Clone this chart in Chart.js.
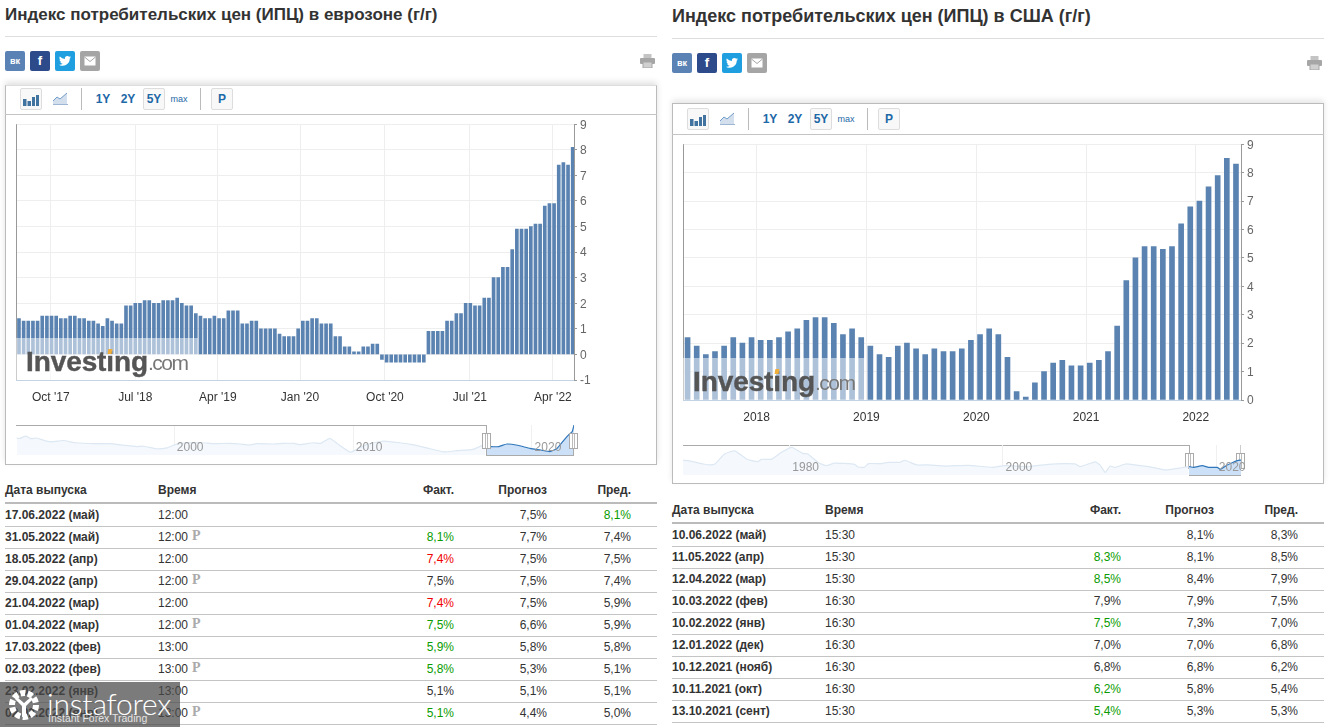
<!DOCTYPE html>
<html lang="ru">
<head>
<meta charset="utf-8">
<title>ИПЦ</title>
<script src="https://cdn.jsdelivr.net/npm/chart.js@4"></script>
<style>
html,body{margin:0;padding:0;background:#fff;overflow:hidden}
body{width:1335px;height:727px;position:relative;font-family:Arial,"Liberation Sans",sans-serif;color:#333}
.a{position:absolute;white-space:nowrap}
canvas{position:absolute;display:block}
.title{font-weight:bold;line-height:22px;color:#333}
.soc{width:20px;height:20px;border-radius:2px;color:#fff;text-align:center;font-weight:bold;font-size:13px;line-height:20px}
.tb{height:22px;line-height:22px;font-size:12px;font-weight:bold;color:#1d68a7;text-align:center}
.btn{border:1px solid #ddd;border-radius:2px;background:#f8f8f8;box-sizing:border-box;width:22px}
.sep{background:#bbb;width:1px;height:22px}
.cell{font-size:12px;line-height:22px;height:22px}
.b{font-weight:bold}
.logoI{font-weight:bold;font-size:28px;line-height:30px;color:#555;letter-spacing:-.1px;-webkit-text-stroke:.4px #555}
.logoC{font-size:21px;line-height:30px;color:#777;letter-spacing:-1.5px}
.pmark{font-family:"Liberation Serif",serif;font-weight:bold;font-size:14px;line-height:22px;color:#aaa}
</style>
</head>
<body>
<script>
/* ---------- euro area chart ---------- */
const euroValues=[1.4,1.3,1.3,1.3,1.3,1.5,1.5,1.5,1.5,1.4,1.4,1.5,1.5,1.4,1.4,1.3,1.3,1.2,1.1,1.4,
1.3,1.2,1.2,1.9,1.9,2.0,2.0,2.1,2.1,2.0,2.0,2.1,2.1,2.1,2.2,2.0,1.9,1.9,1.6,1.5,
1.4,1.4,1.5,1.4,1.4,1.7,1.7,1.7,1.2,1.2,1.3,1.3,1.0,1.0,1.0,1.0,0.8,0.7,0.7,0.7,
1.0,1.3,1.3,1.4,1.4,1.2,1.2,1.2,0.7,0.7,0.3,0.3,0.1,0.1,0.3,0.3,0.4,0.4,-0.2,-0.3,
-0.3,-0.3,-0.3,-0.3,-0.3,-0.3,-0.3,-0.3,0.9,0.9,0.9,0.9,1.3,1.3,1.6,1.6,2.0,2.0,1.9,1.9,
2.2,2.2,3.0,3.0,3.4,3.4,4.1,4.9,4.9,4.9,5.0,5.1,5.1,5.8,5.9,5.9,7.4,7.5,7.4,8.1];
const euroTickLabels=["Oct '17","Jul '18","Apr '19","Jan '20","Oct '20","Jul '21","Apr '22"];
const euroTickAt=[6.85,25,42.75,60.4,78.65,96.9,114.75];
const euroTicksY=[-1,0,1,2,3,4,5,6,7,8,9];

/* ---------- US chart ---------- */
const usValues=[2.2,1.9,1.6,1.7,1.9,2.2,2.0,2.2,2.1,2.1,2.2,2.4,2.5,2.8,2.9,2.9,2.7,2.3,2.5,2.2,
1.9,1.6,1.5,1.9,2.0,1.8,1.6,1.8,1.7,1.7,1.8,2.1,2.3,2.5,2.3,1.5,0.3,0.1,0.6,1.0,
1.3,1.4,1.2,1.2,1.3,1.4,1.7,2.6,4.2,5.0,5.4,5.4,5.3,5.4,6.2,6.8,7.0,7.5,7.9,8.5,8.3];
const usTickLabels=["2018","2019","2020","2021","2022"];
const usTickAt=[7.55,19.57,31.6,43.6,55.6];

/* ---------- navigator series (read from the overview strips) ---------- */
const euroNavYears=[1991.2,1991.4,1991.7,1992,1992.3,1992.8,1993.2,1993.8,1994.5,1995.5,1996.4,1997.2,1997.9,1998.3,1999,1999.6,2000.1,2000.7,2001.6,2002.2,2003.1,2003.7,2004.2,2004.6,2005.6,2006.1,2006.7,2007,2007.8,2008.2,2008.7,2009.1,2009.85,2010.3,2010.8,2011.7,2012.6,2013.4,2014.1,2015.1,2015.8,2016.7,2017.4];
const euroNavVals=[3.9,3.9,4.6,3.8,4.0,3.1,2.8,3.2,2.5,2.2,2.2,1.7,1.3,1.4,0.6,0.9,2.0,2.5,2.5,2.2,2.3,2.1,1.8,2.2,2.1,2.3,2.3,1.9,2.5,2.3,3.9,2.3,-0.5,0.7,2.0,3.0,2.5,1.8,0.9,-0.4,0,0.4,2.1];
const euroSelYears=[2017.45,2017.7,2018.15,2018.6,2019.2,2019.9,2020.5,2021,2021.4,2021.8,2022.05,2022.25,2022.35];
const euroSelVals=[1.6,1.3,1.3,2.1,1.7,0.7,0.2,-0.3,0.7,3.4,5,6,8.1];
const euroNavTicks=[2000,2010,2020];

const usNavYears=[1970,1970.8,1971.9,1972.5,1973,1973.9,1974.85,1975.95,1977,1977.35,1978.3,1979.2,1980.2,1981.2,1981.7,1982.7,1983.45,1984.2,1986.1,1986.4,1987,1987.4,1988.6,1989.25,1990.35,1990.8,1991.9,1993,1994.6,1996.75,1999,2000.2,2002.4,2004.3,2005.8,2006.8,2007.25,2008.65,2009.1,2009.6,2010.05,2010.5,2011.5,2012.4,2014,2015.2,2016.8,2017.4];
const usNavVals=[7.9,7.3,5.9,5.4,5.9,11.3,12.9,8.6,7.1,8.4,8.4,12.0,14.8,11.6,11.3,6.6,5.0,6.4,5.7,4.3,4.1,6.1,6.1,6.8,6.8,7.9,5.4,5.4,4.8,5.2,4.1,5.0,4.5,5.7,6.1,5.9,4.5,7.0,5.4,1.4,4.8,4.1,5.9,5.4,4.1,2.7,3.9,4.5];
const usSelYears=[2017.45,2017.9,2018.7,2019.3,2020.1,2020.4,2021,2021.5,2022,2022.33];
const usSelVals=[4.5,4.1,5.0,4.1,4.1,3.0,5.2,6.6,7.7,8.0];
const usNavTicks=[1980,2000,2020];

/* ---------- tables ---------- */
const euroDates=["17.06.2022 (май)","31.05.2022 (май)","18.05.2022 (апр)","29.04.2022 (апр)","21.04.2022 (мар)","01.04.2022 (мар)","17.03.2022 (фев)","02.03.2022 (фев)","23.02.2022 (янв)","02.02.2022 (янв)"];
const euroTimes=["12:00","12:00","12:00","12:00","12:00","12:00","13:00","13:00","13:00","13:00"];
const euroPrelim=[0,1,0,1,0,1,0,1,0,1];
const euroActual=["","8,1%","7,4%","7,5%","7,4%","7,5%","5,9%","5,8%","5,1%","5,1%"];
const euroActualTone=["","g","r","","r","g","g","g","","g"];
const euroForecast=["7,5%","7,7%","7,5%","7,5%","7,5%","6,6%","5,8%","5,3%","5,1%","4,4%"];
const euroPrev=["8,1%","7,4%","7,5%","7,4%","5,9%","5,9%","5,8%","5,1%","5,1%","5,0%"];
const euroPrevTone=["g","","","","","","","","",""];

const usDates=["10.06.2022 (май)","11.05.2022 (апр)","12.04.2022 (мар)","10.03.2022 (фев)","10.02.2022 (янв)","12.01.2022 (дек)","10.12.2021 (нояб)","10.11.2021 (окт)","13.10.2021 (сент)"];
const usTimes=["15:30","15:30","15:30","16:30","16:30","16:30","16:30","16:30","15:30"];
const usPrelim=[0,0,0,0,0,0,0,0,0];
const usActual=["","8,3%","8,5%","7,9%","7,5%","7,0%","6,8%","6,2%","5,4%"];
const usActualTone=["","g","g","","g","","","g","g"];
const usForecast=["8,1%","8,1%","8,4%","7,9%","7,3%","7,0%","6,8%","5,8%","5,3%"];
const usPrev=["8,3%","8,5%","7,9%","7,5%","7,0%","6,8%","6,2%","5,4%","5,3%"];
const usPrevTone=["","","","","","","","",""];

const headers=["Дата выпуска","Время","Факт.","Прогноз","Пред."];
const titles=["Индекс потребительских цен (ИПЦ) в еврозоне (г/г)","Индекс потребительских цен (ИПЦ) в США (г/г)"];

/* ---------- helpers ---------- */
const BAR='#5b83b1',TONE={g:'#0a9c00',r:'#f00000','':'#333'};
function el(cls,css,html,tag){const d=document.createElement(tag||'div');d.className='a '+cls;
  d.style.cssText=css;if(html!==undefined)d.innerHTML=html;document.body.appendChild(d);return d;}
function box(x,y,w,h,css){return el('',`left:${x}px;top:${y}px;width:${w}px;height:${h}px;${css||''}`);}

const leftEdge={id:'leftEdge',afterDraw(c){const a=c.chartArea,g=c.ctx;g.save();g.strokeStyle='#999';g.lineWidth=1;
  g.beginPath();g.moveTo(a.left+.5,a.top);g.lineTo(a.left+.5,a.bottom);g.stroke();g.restore();}};

/* year labels sit inside the overview strip, just right of their gridlines */
const navLabels={id:'navLabels',afterDatasetsDraw(c){const s=c.scales.x,g=c.ctx;g.save();
  g.fillStyle='#999';g.font='12px Arial,"Liberation Sans"';g.textAlign='center';g.textBaseline='middle';
  s.ticks.forEach(t=>g.fillText(String(t.value),s.getPixelForValue(t.value)+16,23));g.restore();}};

function barChart(o){
  const cv=document.createElement('canvas');cv.width=o.w;cv.height=o.h;
  cv.style.left=o.x+'px';cv.style.top=o.y+'px';document.body.appendChild(cv);
  return new Chart(cv,{type:'bar',
    data:{datasets:[{data:o.values.map((v,i)=>({x:i,y:v})),backgroundColor:BAR,barThickness:o.bar,borderWidth:0}]},
    plugins:[leftEdge],
    options:{responsive:false,animation:false,devicePixelRatio:1,
      layout:{padding:{left:o.padL,top:0,right:0,bottom:0}},
      plugins:{legend:{display:false},tooltip:{enabled:false}},
      scales:{
        x:{type:'linear',offset:false,min:o.xmin,max:o.xmax,
          afterBuildTicks(s){s.ticks=o.tickAt.map(v=>({value:v}));},
          afterFit(s){s.height=o.axisH;},
          border:{color:'#c3d3e6',width:1},
          grid:{color:'#eeeeee',offset:false,drawTicks:false},
          ticks:{autoSkip:false,maxRotation:0,padding:o.tickPad,color:'#333',font:{family:'Arial,"Liberation Sans"',size:12},
            callback:(v,i)=>o.tickLabels[i]}},
        y:{type:'linear',position:'right',min:o.ymin,max:9,
          afterBuildTicks(s){s.ticks=o.yTicks.map(v=>({value:v}));},
          afterFit(s){s.width=o.axisW;},
          border:{color:'#999',width:1},
          grid:{color:'#eeeeee',tickColor:'#999',tickLength:3},
          ticks:{padding:3,labelOffset:1,color:'#666',font:{family:'Arial,"Liberation Sans"',size:12},align:'center',crossAlign:'near'}}
      }}});
}

function navChart(o){
  const cv=document.createElement('canvas');cv.width=o.w+12;cv.height=o.h;
  cv.style.left=o.x+'px';cv.style.top=o.y+'px';document.body.appendChild(cv);
  const pts=(X,Y)=>X.map((x,i)=>({x,y:Y[i]}));
  return new Chart(cv,{type:'line',
    data:{datasets:[
      {data:pts(o.navX,o.navY),borderColor:'#dde8f3',borderWidth:1.2,backgroundColor:'#f5f9fd',fill:'start',pointRadius:0,tension:.15},
      {data:pts(o.selX,o.selY),borderColor:'#2f76ba',borderWidth:1.2,backgroundColor:'#cce1f8',fill:'start',pointRadius:0,tension:.15}
    ]},
    plugins:[navLabels],
    options:{responsive:false,animation:false,devicePixelRatio:1,
      layout:{padding:{right:12}},
      plugins:{legend:{display:false},tooltip:{enabled:false}},
      scales:{
        x:{type:'linear',min:o.xmin,max:o.xmax,
          afterBuildTicks(s){s.ticks=o.ticks.map(v=>({value:v}));},
          afterFit(s){s.height=0;},
          border:{display:false},
          grid:{color:'#f0f0f0',drawTicks:false},
          ticks:{display:false}},
        y:{display:false,min:o.ymin,max:o.ymax}
      }}});
}

function icons(x,y,px,py){
  el('soc',`left:${x}px;top:${y}px;background:#5a82b5;font-size:9px`,'вк');
  el('soc',`left:${x+25}px;top:${y}px;background:#2d4a8a`,'f');
  el('soc',`left:${x+50}px;top:${y}px;background:#1f9fe0`,'<svg width="12" height="10" viewBox="0 0 24 20" style="margin-top:5px;display:block;margin-left:4px"><path fill="#fff" d="M24 2.4c-.9.4-1.8.7-2.8.8 1-.6 1.8-1.6 2.2-2.7-1 .6-2 1-3.1 1.2A4.9 4.9 0 0 0 11.900 6.100 14 14 0 0 1 1.700.9a4.900 4.900 0 0 0 1.500 6.600c-.8 0-1.600-.2-2.200-.6 0 2.400 1.700 4.400 3.900 4.900-.7.200-1.500.2-2.200.1.600 2 2.400 3.400 4.600 3.400A9.900 9.900 0 0 1 0 17.300 14 14 0 0 0 21.500 4.900c1-.7 1.800-1.500 2.500-2.500z"/></svg>');
  el('soc',`left:${x+75}px;top:${y}px;background:#a5a5a5`,'<svg width="12" height="10" viewBox="0 0 12 10" style="margin-top:5px;display:block;margin-left:4px"><rect x=".5" y=".5" width="11" height="9" fill="#fff"/><path d="M.5 1 6 5.500 11.500 1" fill="none" stroke="#a5a5a5"/></svg>');
  el('',`left:${px}px;top:${py}px`,'<svg width="15" height="14" viewBox="0 0 15 14" style="display:block"><rect x="3.500" y="0" width="8" height="4" fill="#c4c4c4"/><rect x="0" y="4" width="15" height="6" rx="1" fill="#a6a6a6"/><rect x="3" y="8" width="9" height="6" fill="#d0d0d0" stroke="#a6a6a6"/></svg>');
}

function toolbar(dx,y){
  const t=y;
  el('btn',`left:${20+dx}px;top:${t}px;height:22px`,'<svg width="16" height="12" viewBox="0 0 16 12" style="display:block;margin:5px 2px"><path fill="#40739f" d="M0 5h3.500v7H0zM4.500 7H8v5H4.500zM9 3h3v9H9zM13 1h3v11h-3z"/></svg>');
  el('',`left:${52+dx}px;top:${t+4}px`,'<svg width="17" height="13" viewBox="0 0 17 13" style="display:block"><path d="M1 9 5 5 8 7 15 1V12H1z" fill="#d4dfee"/><path d="M1 9 5 5 8 7 15 1" fill="none" stroke="#6f9cc9"/><path d="M1 12.500h15" stroke="#9cb6d3"/></svg>');
  el('sep',`left:${81+dx}px;top:${t}px`);
  el('tb',`left:${93+dx}px;top:${t}px;width:20px`,'1Y');
  el('tb',`left:${118+dx}px;top:${t}px;width:20px`,'2Y');
  el('btn tb',`left:${143+dx}px;top:${t}px;line-height:20px`,'5Y');
  el('tb',`left:${168+dx}px;top:${t}px;width:22px;font-size:9px;font-weight:normal`,'max');
  el('sep',`left:${200+dx}px;top:${t}px`);
  el('btn tb',`left:${211+dx}px;top:${t}px;line-height:20px`,'P');
}

function logo(x,base){
  const top=base-23;
  el('logoI',`left:${x}px;top:${top}px`,'Investing');
  el('logoC',`left:${x+122}px;top:${top+1}px`,'.com');
  box(x+82,base-21,4,5,'background:#f0ae3c;transform:skewX(-10deg)');
}

function table(o){
  const X=o.x;
  const cols=[{l:X},{l:X+153},{r:X+449},{r:X+542},{r:X+626}];
  headers.forEach((h,i)=>{const c=cols[i];
    el('cell',`top:${o.head-11}px;font-weight:bold;${c.l!==undefined?`left:${c.l}px`:`right:${1335-c.r}px`}`,h);});
  box(X,o.head+12,o.w,2,'background:#bbb');
  o.dates.forEach((d,i)=>{
    const y=o.first-11+i*22;
    el('cell b',`left:${cols[0].l}px;top:${y}px`,d);
    el('cell',`left:${cols[1].l}px;top:${y}px`,o.times[i]);
    if(o.prelim[i])el('pmark',`left:${X+187}px;top:${y-1}px`,'P');
    el('cell',`right:${1335-cols[2].r}px;top:${y}px;color:${TONE[o.actualTone[i]]}`,o.actual[i]);
    el('cell',`right:${1335-cols[3].r}px;top:${y}px`,o.forecast[i]);
    el('cell',`right:${1335-cols[4].r}px;top:${y}px;color:${TONE[o.prevTone[i]]}`,o.prev[i]);
    box(X,y+22,o.w,1,'background:#c4c4c4');
  });
}

function navFrame(x0,xs,xe,top,bot){
  const c='#aaa';
  box(x0,top,xs-x0,1,`background:${c}`);
  box(xs,top,1,bot-top,`background:${c}`);
  box(xs,bot,xe-xs+1,1,`background:${c}`);
  box(xe,top+20,1,bot-top-20,`background:${c}`);
  [xs,xe].forEach(h=>{
    el('',`left:${h-4}px;top:${top+8}px;width:7px;height:14px;background:#fff;border:1px solid #aaa;
      background-image:linear-gradient(90deg,transparent 2px,#bbb 2px,#bbb 3px,transparent 3px,transparent 4px,#bbb 4px,#bbb 5px,transparent 5px)`);
  });
}

/* ---------- page ---------- */
el('title','left:5px;top:4px;font-size:17px',titles[0]);
el('title','left:672px;top:5px;font-size:18px',titles[1]);
box(5,36,652,1,'background:#ddd');
box(672,38,652,1,'background:#ddd');
icons(5,51,640,54);
icons(672,53,1307,56);

box(5,85,652,380,'border:1px solid #bbb;border-top-color:#ddd;box-sizing:border-box;box-shadow:0 -3px 6px rgba(0,0,0,.12)');
box(672,103,652,381,'border:1px solid #bbb;box-sizing:border-box;box-shadow:0 -3px 6px rgba(0,0,0,.10)');
box(5,114,652,1,'background:#c4c4c4');
box(672,134,652,1,'background:#c4c4c4');
toolbar(0,88);
toolbar(667,108);

barChart({x:6,y:114,w:600,h:302,values:euroValues,bar:3,padL:10,axisW:32,axisH:36,tickPad:10,
  xmin:-0.64,xmax:119.28,ymin:-1,yTicks:euroTicksY,tickAt:euroTickAt,tickLabels:euroTickLabels});
barChart({x:673,y:134,w:600,h:302,values:usValues,bar:5,padL:10,axisW:32,axisH:36,tickPad:10,
  xmin:-0.5,xmax:60.55,ymin:0,yTicks:euroTicksY.slice(1),tickAt:usTickAt,tickLabels:usTickLabels});

navChart({x:16,y:425,w:558,h:30,navX:euroNavYears,navY:euroNavVals,selX:euroSelYears,selY:euroSelVals,
  xmin:1991.16,xmax:2022.35,ymin:-1.37,ymax:8.1,ticks:euroNavTicks});
navFrame(16,486,573,425,455);
/* the US strip's "2020" label runs over the right handle, so the frame goes underneath */
navFrame(683,1189,1240,445,475);
box(1240,445,1,8,'background:#ccc');
navChart({x:683,y:445,w:558,h:30,navX:usNavYears,navY:usNavVals,selX:usSelYears,selY:usSelVals,
  xmin:1970,xmax:2022.33,ymin:0,ymax:16.07,ticks:usNavTicks});

/* watermark veil + logo over the plots */
box(16,338,182,42,'background:rgba(255,255,255,.5)');
box(683,358,182,42,'background:rgba(255,255,255,.5)');
logo(26,370);
logo(693,390);

table({x:5,w:652,head:490,first:515,dates:euroDates,times:euroTimes,prelim:euroPrelim,actual:euroActual,actualTone:euroActualTone,forecast:euroForecast,prev:euroPrev,prevTone:euroPrevTone});
table({x:672,w:652,head:510,first:535,dates:usDates,times:usTimes,prelim:usPrelim,actual:usActual,actualTone:usActualTone,forecast:usForecast,prev:usPrev,prevTone:usPrevTone});

/* InstaForex stamp */
box(0,682,180,45,'background:rgba(72,72,72,.72)');
el('',`left:6px;top:688px`,'<svg width="36" height="34" viewBox="0 0 36 34" style="display:block"><g fill="none" stroke="#fff" stroke-width="3"><circle cx="18" cy="17" r="12" stroke-dasharray="5 2.500" stroke-width="6"/></g><path d="M11 9l7 6 7-6 2 2-7 7v11h-4V18l-7-7z" fill="#fff"/></svg>');
el('',`left:47px;top:686px;font-family:Lato,"Open Sans",sans-serif;font-weight:300;font-size:30px;line-height:34px;color:#fff;letter-spacing:-.2px`,'instaforex');
el('',`left:48px;top:712px;font-family:Arial,"Liberation Sans",sans-serif;font-size:10.500px;line-height:13px;color:#e4e4e4`,'Instant Forex Trading');
</script>
</body>
</html>
